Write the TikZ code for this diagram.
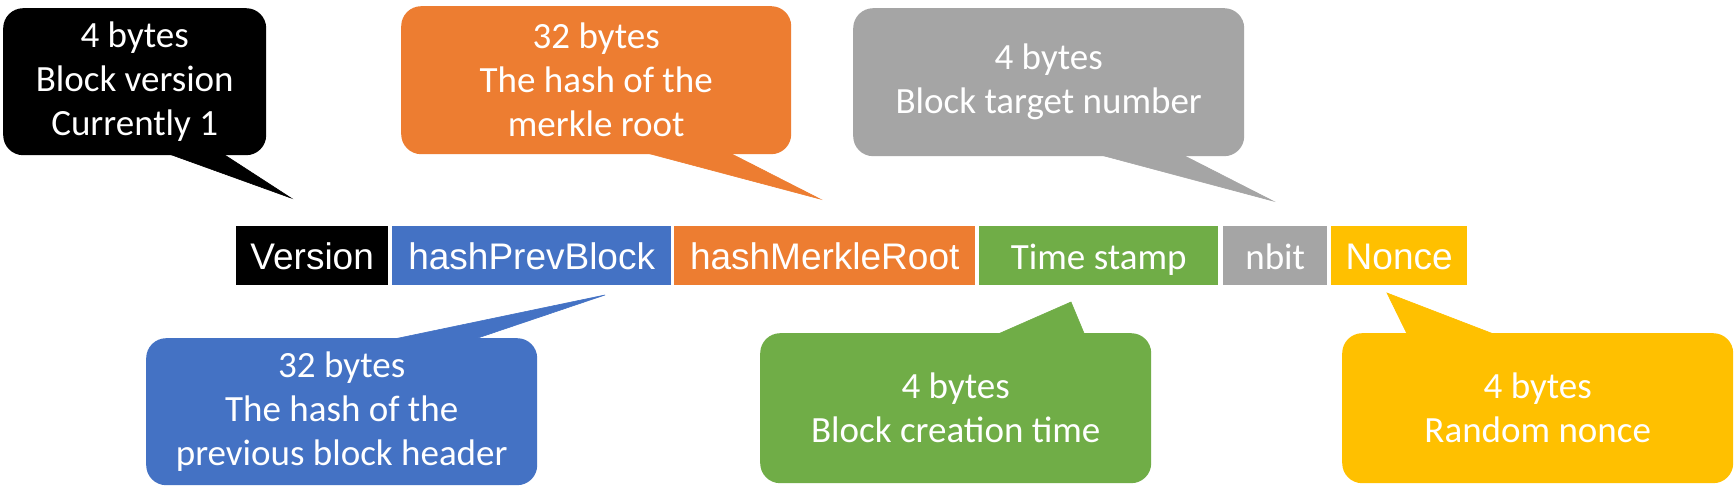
\documentclass[tikz,border=0pt]{standalone}
\usepackage{fontspec}
\setmainfont{Carlito}
\newfontfamily\arialf{Liberation Sans}
\usetikzlibrary{calc}
\definecolor{cBlack}{HTML}{000000}
\definecolor{cOrange}{HTML}{ED7D31}
\definecolor{cGray}{HTML}{A5A5A5}
\definecolor{cBlue}{HTML}{4472C4}
\definecolor{cGreen}{HTML}{70AD47}
\definecolor{cYellow}{HTML}{FFC000}
\begin{document}
\begin{tikzpicture}[x=1pt,y=-1pt,
  field/.style={anchor=north west, inner sep=0pt, minimum height=59pt, text=white,
    text height=27pt, text depth=0pt, font=\fontsize{37}{44}\selectfont},
  afield/.style={field, font=\arialf\fontsize{37}{44}\selectfont},
  callout/.style={anchor=north west, rounded corners=20pt, inner sep=0pt, text=white,
    align=center, font=\fontsize{37}{44}\selectfont, minimum width=391pt, minimum height=148pt},
  tail/.style={line width=0.6pt, line join=miter}]
\useasboundingbox (0,0) rectangle (1736,502);
\fill[white] (0,0) rectangle (1736,502);

% header fields
\node[afield, fill=cBlack, minimum width=152pt] (ver) at (236,226) {Version};
\node[afield, fill=cBlue, minimum width=279pt] (prev) at (392,226) {hashPrevBlock};
\node[afield, fill=cOrange, minimum width=301pt] (merk) at (674,226) {hashMerkleRoot};
\node[field, fill=cGreen, minimum width=239pt] (time) at (979,226) {Time stamp};
\node[field, fill=cGray, minimum width=104pt] (nbit) at (1223,226) {nbit};
\node[afield, fill=cYellow, minimum width=136pt] (nonce) at (1331,226) {Nonce};

% tail tips
\coordinate (tBlack) at (291,198);
\coordinate (tOrange) at (820,199);
\coordinate (tGray) at (1273,201);
\coordinate (tBlue) at (605,295);
\coordinate (tGreen) at (1071,302);
\coordinate (tYellow) at (1387,293);

% tails
\filldraw[tail, cBlack] (158,150) -- (tBlack) -- (217,150) -- cycle;
\filldraw[tail, cOrange] (628,148) -- (tOrange) -- (720,148) -- cycle;
\filldraw[tail, cGray] (1082,150) -- (tGray) -- (1173,150) -- cycle;
\filldraw[tail, cBlue] (375,343) -- (tBlue) -- (463,343) -- cycle;
\filldraw[tail, cGreen] (989,338) -- (tGreen) -- (1086,338) -- cycle;
\filldraw[tail, cYellow] (1409,338) -- (tYellow) -- (1504,338) -- cycle;

% callouts
\node[callout, fill=cBlack, minimum width=263pt, minimum height=147pt] (cbk) at (3,8)
  {4 bytes\\Block version\\Currently 1};
\node[callout, fill=cOrange, minimum width=390pt] (cor) at (401,6)
  {32 bytes\\The hash of the\\merkle root};
\node[callout, fill=cGray] (cgy) at (853,8)
  {4 bytes\\Block target number};
\node[callout, fill=cBlue, minimum height=147pt] (cbl) at (146,338)
  {32 bytes\\The hash of the\\previous block header};
\node[callout, fill=cGreen, minimum height=150pt] (cgr) at (760,333)
  {4 bytes\\Block creation time};
\node[callout, fill=cYellow, minimum height=150pt] (cyl) at (1342,333)
  {4 bytes\\Random nonce};
\end{tikzpicture}
\end{document}
